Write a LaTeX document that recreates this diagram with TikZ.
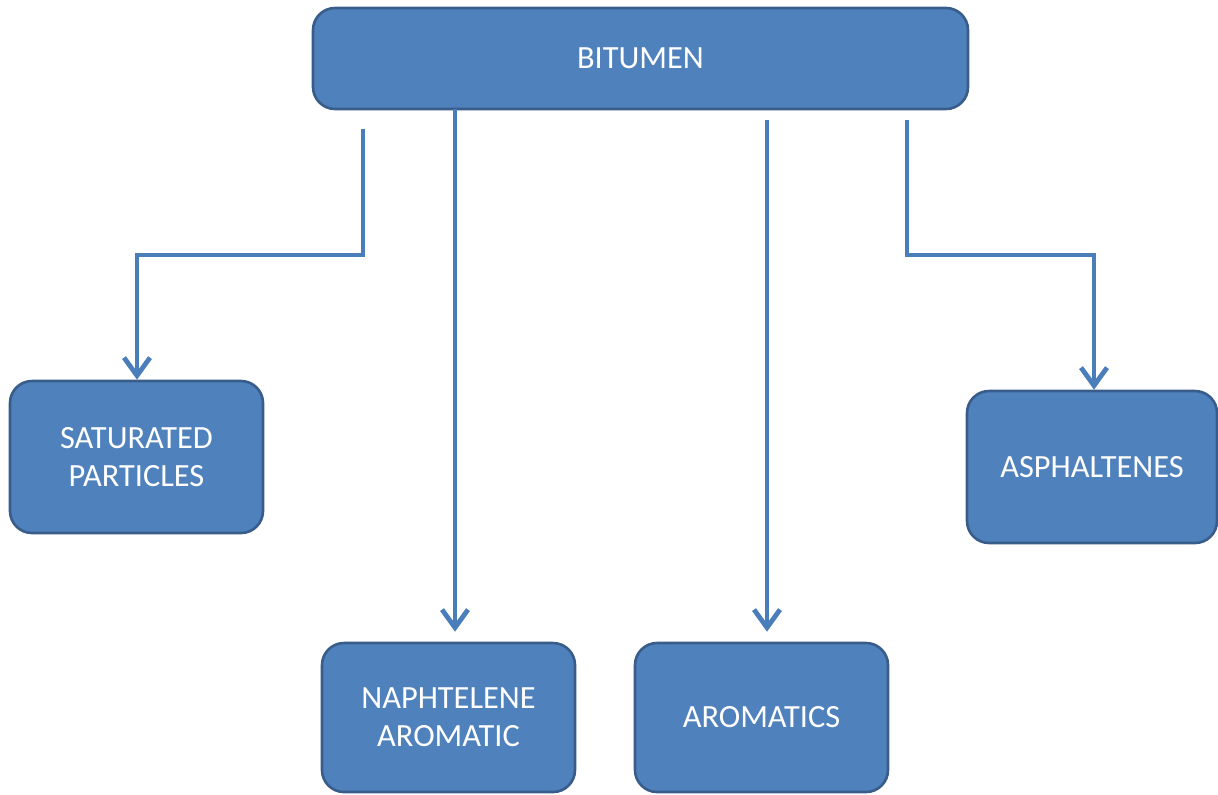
\documentclass[tikz,border=0pt]{standalone}
\usepackage{fontspec}
\setmainfont{Carlito}
\usetikzlibrary{arrows.meta}
\definecolor{boxfill}{HTML}{4F81BD}
\definecolor{boxline}{HTML}{385D8A}
\definecolor{conncol}{HTML}{4A7EBB}
\begin{document}
\begin{tikzpicture}[x=0.5pt,y=-0.5pt,
  box/.style={draw=boxline, fill=boxfill, line width=1.3pt, rounded corners=11pt,
    text=white, align=center, inner sep=0pt,
    font=\fontsize{16.2}{19}\selectfont},
  conn/.style={draw=conncol, line width=2.4pt,
    -{Straight Barb[length=9pt,width=13pt]}}]
\useasboundingbox (0,0) rectangle (1218,794);
\node[box, minimum width=327.5pt, minimum height=50.5pt] (bit) at (640.5,58.5) {BITUMEN};
\node[box, minimum width=126.5pt, minimum height=76pt] (sat) at (136.5,457) {SATURATED\\PARTICLES};
\node[box, minimum width=125pt, minimum height=76pt] (asp) at (1092,467) {ASPHALTENES};
\node[box, minimum width=126.5pt, minimum height=74.5pt] (nap) at (448.5,717.5) {NAPHTELENE\\AROMATIC};
\node[box, minimum width=126.5pt, minimum height=74.5pt] (aro) at (761.5,717.5) {AROMATICS};
\coordinate (s1) at (363,129);
\coordinate (b1) at (137,255);
\coordinate (s2) at (455,109);
\coordinate (s3) at (767,120);
\coordinate (s4) at (907,120);
\coordinate (b4) at (1094,255);
\draw[conn] (s1) |- (b1) -- (b1 |- sat.north);
\draw[conn, shorten >=5pt] (s2) -- (s2 |- nap.north);
\draw[conn, shorten >=5pt] (s3) -- (s3 |- aro.north);
\draw[conn] (s4) |- (b4) -- (b4 |- asp.north);
\end{tikzpicture}
\end{document}
